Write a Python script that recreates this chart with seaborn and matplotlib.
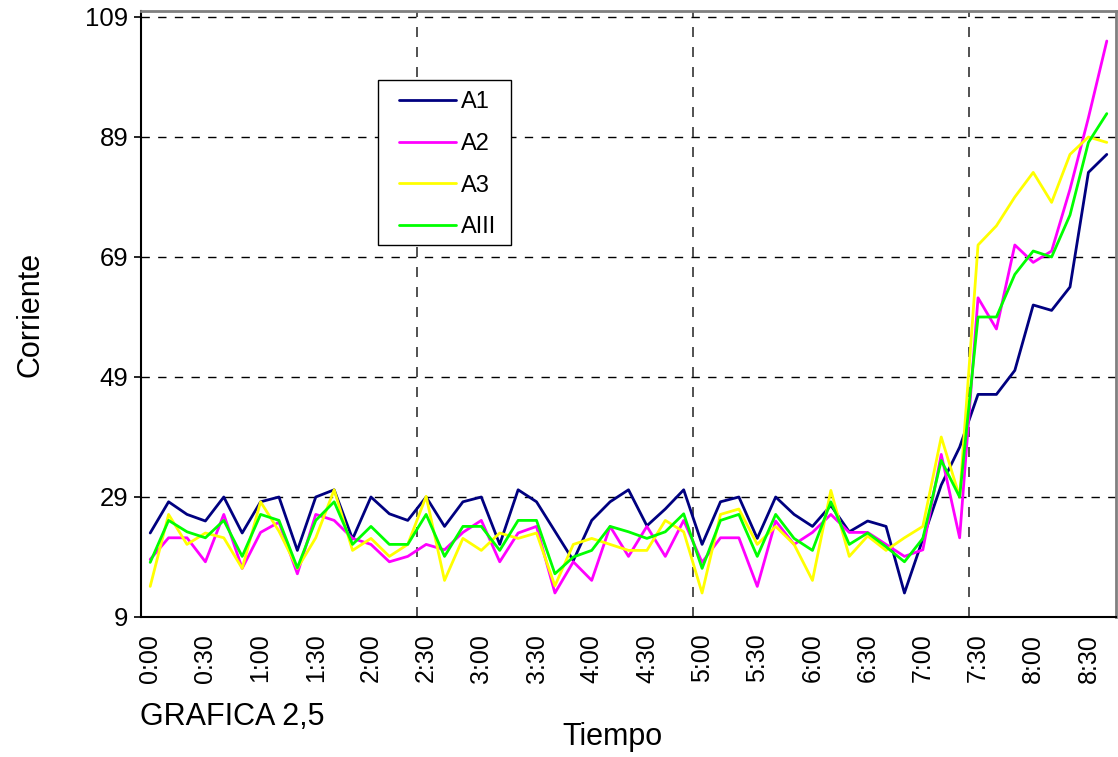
import matplotlib
matplotlib.use("Agg")
import matplotlib.pyplot as plt
import pandas as pd
import seaborn as sns
from matplotlib.patches import Rectangle

# 10-minute readings, 0:00 .. 8:40
tiempos = [f"{(i * 10) // 60}:{(i * 10) % 60:02d}" for i in range(53)]

a1 = [23, 28.2, 26.1, 25, 29, 23, 28.2, 29, 20.1, 29, 30.2, 22, 29, 26.2, 25.1,
      29, 24.1, 28.2, 29, 21.1, 30.2, 28.2, 23.3, 18.4, 25.1, 28.2, 30.2, 24.2,
      27, 30.2, 21.1, 28.2, 29, 22.1, 29, 26.1, 24.1, 27.6, 23.2, 25, 24.1, 13,
      22, 31, 37.3, 46.1, 46.1, 50.1, 61, 60.1, 64, 83.1, 86.1]
a2 = [18.6, 22.2, 22.2, 18.2, 26.1, 17.1, 23.1, 24.8, 16.2, 26.1, 25.1, 22.1,
      21.1, 18.2, 19.1, 21.1, 20.2, 23.1, 25.1, 18.2, 23, 24.1, 13, 18.2, 15.1,
      24.1, 19.1, 24.1, 19.1, 25.1, 18.1, 22.2, 22.2, 14.1, 25, 21.1, 23.1, 26.1,
      23.1, 23.1, 21.1, 19.1, 20.2, 36.1, 22.2, 62.2, 57, 71, 68.1, 70, 80.3,
      92.2, 105]
a3 = [14.1, 26.1, 21.1, 23, 22.2, 17.1, 28.2, 23.3, 17.1, 22.2, 30.2, 20.1,
      22.1, 19.1, 21.1, 29.1, 15.1, 22.1, 20.1, 23, 22.1, 23, 14.2, 21.1, 22.1,
      21.1, 20.1, 20.1, 25.1, 23.2, 13, 26.1, 27, 21.1, 24.1, 21.1, 15.1, 30.1,
      19.1, 22.5, 20.1, 22.2, 24.1, 39, 29, 71, 74.2, 79, 83.1, 78.1, 86.1, 89,
      88.1]
aiii = [18.1, 25.1, 23.2, 22.2, 25.1, 19.1, 26.1, 25.1, 17.2, 25.1, 28.2, 21.1,
        24.1, 21.1, 21.1, 26.1, 19.1, 24.1, 24.1, 20.1, 25.1, 25.1, 16.2, 19,
        20.1, 24.1, 23.2, 22.1, 23.2, 26.2, 17.1, 25.1, 26.1, 19.1, 26.1, 22.1,
        20.1, 28.2, 21.1, 23, 20.7, 18.2, 22.1, 35.1, 29, 59, 59, 66.1, 70, 69,
        76, 88.1, 92.9]

series = {"A1": a1, "A2": a2, "A3": a3, "AIII": aiii}
colores = {"A1": "#000080", "A2": "#FF00FF", "A3": "#FFFF00", "AIII": "#00FF00"}
y_ticks = [9, 29, 49, 69, 89, 109]

sns.set_style("white")
plt.rcParams["font.family"] = ["Liberation Sans", "DejaVu Sans"]
plt.rcParams["text.color"] = "black"
plt.rcParams["xtick.color"] = "black"
plt.rcParams["ytick.color"] = "black"

df = pd.concat(
    [pd.DataFrame({"idx": range(len(v)), "valor": v, "serie": k}) for k, v in series.items()],
    ignore_index=True,
)

fig = plt.figure(figsize=(11.18, 7.57), dpi=100)
ax = fig.add_axes([141 / 1118, 1 - 617 / 757, 975 / 1118, 606 / 757])

# grid first so the lines sit on top
for y in y_ticks:
    ax.axhline(y, color="black", lw=1.0, ls=(0, (6, 6)), zorder=1)
for xb in [14.5, 29.5, 44.5]:
    ax.axvline(xb, color="#333333", lw=1.2, ls=(0, (6, 6)), zorder=1)

sns.lineplot(
    data=df, x="idx", y="valor", hue="serie", palette=colores,
    hue_order=list(series.keys()), linewidth=2.0, ax=ax, zorder=3,
)

ax.set_xlim(-0.5, len(tiempos) - 0.5)
ax.set_ylim(9, 110)
ax.set_yticks(y_ticks)
ax.set_yticklabels([str(v) for v in y_ticks], fontsize=18.5)
ax.set_xticks(range(0, len(tiempos), 3))
ax.set_xticklabels(tiempos[::3], rotation=90, fontsize=18)
ax.tick_params(axis="x", length=0, pad=12)
ax.tick_params(axis="y", length=5, width=1.2, color="black", direction="out", pad=4, left=True)
ax.set_xlabel("")
ax.set_ylabel("")

for s in ["left", "bottom"]:
    ax.spines[s].set_color("black")
    ax.spines[s].set_linewidth(1.5)
for s in ["top", "right"]:
    ax.spines[s].set_color("#808080")
    ax.spines[s].set_linewidth(2.0)

# legend box drawn separately so the inner padding can match
ax.add_patch(Rectangle((0.243, 0.614), 0.136, 0.272, transform=ax.transAxes,
                       facecolor="white", edgecolor="black", lw=1.0, zorder=5))
leg = ax.legend(
    loc="upper left", bbox_to_anchor=(0.2645, 0.868), frameon=False,
    fontsize=17, handlelength=2.4, labelspacing=0.84, borderpad=0,
    handletextpad=0.22, borderaxespad=0,
)
leg.set_zorder(6)

fig.text(30 / 1118, 1 - 314 / 757, "Corriente", rotation=90, ha="center", va="center", fontsize=22)
fig.text(612 / 1118, 1 - 737 / 757, "Tiempo", ha="center", va="center", fontsize=22)
fig.text(140 / 1118, 1 - 717 / 757, "GRAFICA 2,5", ha="left", va="center", fontsize=22)

fig.savefig("out.png", dpi=100)
